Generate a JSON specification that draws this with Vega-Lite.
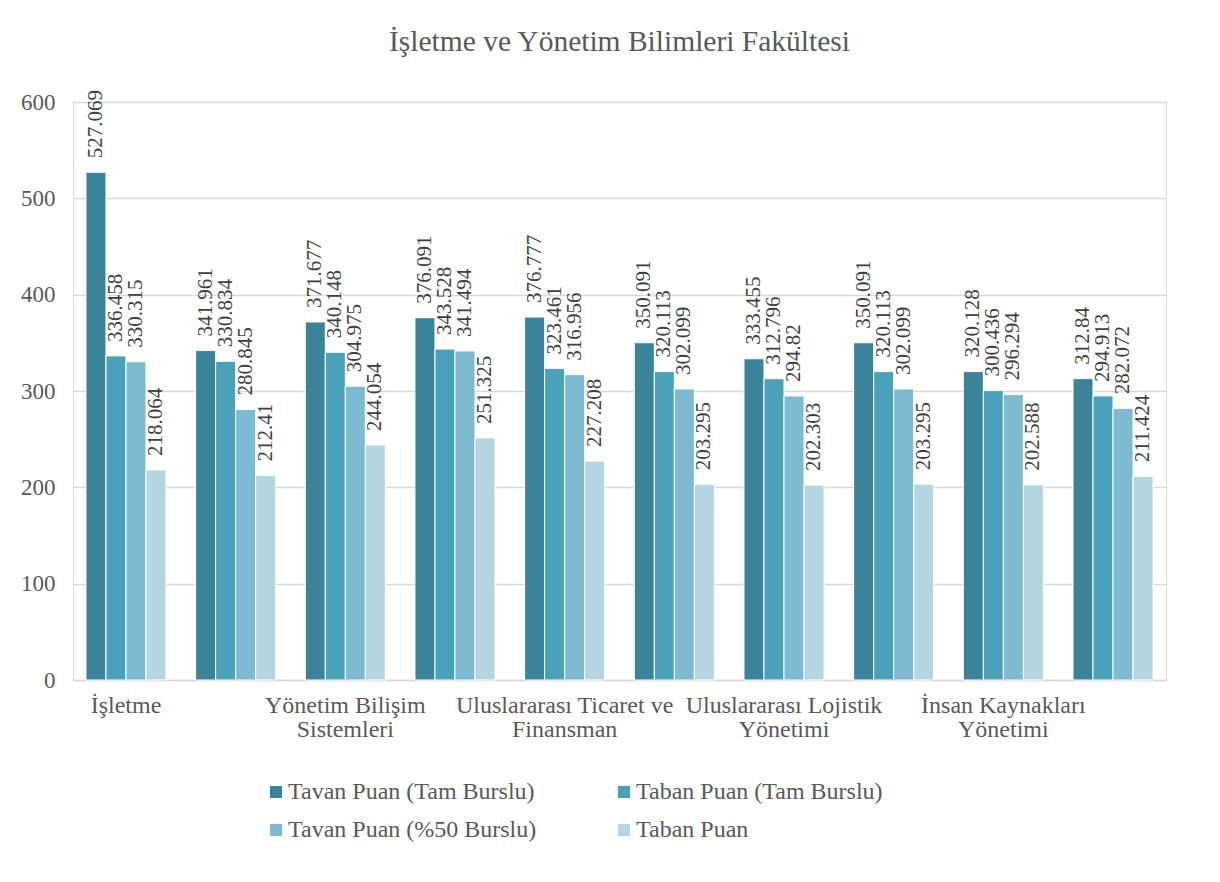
{
  "$schema": "https://vega.github.io/schema/vega-lite/v6.json",
  "autosize": {"type": "none"},
  "width": 1093,
  "height": 578,
  "padding": {"left": 73, "top": 102, "right": 54, "bottom": 202},
  "background": "white",
  "title": {
    "text": "İşletme ve Yönetim Bilimleri Fakültesi",
    "font": "Liberation Serif",
    "fontSize": 29.5,
    "fontWeight": "normal",
    "color": "#595959",
    "anchor": "middle",
    "offset": 33
  },
  "data": {
    "values": [
      {"bolum": "İşletme", "seri": "Tavan Puan (Tam Burslu)", "puan": 527.069},
      {"bolum": "İşletme", "seri": "Taban Puan (Tam Burslu)", "puan": 336.458},
      {"bolum": "İşletme", "seri": "Tavan Puan (%50 Burslu)", "puan": 330.315},
      {"bolum": "İşletme", "seri": "Taban Puan", "puan": 218.064},
      {"bolum": "İşletme (İngilizce)", "seri": "Tavan Puan (Tam Burslu)", "puan": 341.961},
      {"bolum": "İşletme (İngilizce)", "seri": "Taban Puan (Tam Burslu)", "puan": 330.834},
      {"bolum": "İşletme (İngilizce)", "seri": "Tavan Puan (%50 Burslu)", "puan": 280.845},
      {"bolum": "İşletme (İngilizce)", "seri": "Taban Puan", "puan": 212.41},
      {"bolum": "Yönetim Bilişim Sistemleri", "seri": "Tavan Puan (Tam Burslu)", "puan": 371.677},
      {"bolum": "Yönetim Bilişim Sistemleri", "seri": "Taban Puan (Tam Burslu)", "puan": 340.148},
      {"bolum": "Yönetim Bilişim Sistemleri", "seri": "Tavan Puan (%50 Burslu)", "puan": 304.975},
      {"bolum": "Yönetim Bilişim Sistemleri", "seri": "Taban Puan", "puan": 244.054},
      {"bolum": "Yönetim Bilişim Sistemleri (İngilizce)", "seri": "Tavan Puan (Tam Burslu)", "puan": 376.091},
      {"bolum": "Yönetim Bilişim Sistemleri (İngilizce)", "seri": "Taban Puan (Tam Burslu)", "puan": 343.528},
      {"bolum": "Yönetim Bilişim Sistemleri (İngilizce)", "seri": "Tavan Puan (%50 Burslu)", "puan": 341.494},
      {"bolum": "Yönetim Bilişim Sistemleri (İngilizce)", "seri": "Taban Puan", "puan": 251.325},
      {"bolum": "Uluslararası Ticaret ve Finansman", "seri": "Tavan Puan (Tam Burslu)", "puan": 376.777},
      {"bolum": "Uluslararası Ticaret ve Finansman", "seri": "Taban Puan (Tam Burslu)", "puan": 323.461},
      {"bolum": "Uluslararası Ticaret ve Finansman", "seri": "Tavan Puan (%50 Burslu)", "puan": 316.956},
      {"bolum": "Uluslararası Ticaret ve Finansman", "seri": "Taban Puan", "puan": 227.208},
      {"bolum": "Uluslararası Ticaret ve Finansman (İngilizce)", "seri": "Tavan Puan (Tam Burslu)", "puan": 350.091},
      {"bolum": "Uluslararası Ticaret ve Finansman (İngilizce)", "seri": "Taban Puan (Tam Burslu)", "puan": 320.113},
      {"bolum": "Uluslararası Ticaret ve Finansman (İngilizce)", "seri": "Tavan Puan (%50 Burslu)", "puan": 302.099},
      {"bolum": "Uluslararası Ticaret ve Finansman (İngilizce)", "seri": "Taban Puan", "puan": 203.295},
      {"bolum": "Uluslararası Lojistik Yönetimi", "seri": "Tavan Puan (Tam Burslu)", "puan": 333.455},
      {"bolum": "Uluslararası Lojistik Yönetimi", "seri": "Taban Puan (Tam Burslu)", "puan": 312.796},
      {"bolum": "Uluslararası Lojistik Yönetimi", "seri": "Tavan Puan (%50 Burslu)", "puan": 294.82},
      {"bolum": "Uluslararası Lojistik Yönetimi", "seri": "Taban Puan", "puan": 202.303},
      {"bolum": "Uluslararası Lojistik Yönetimi (İngilizce)", "seri": "Tavan Puan (Tam Burslu)", "puan": 350.091},
      {"bolum": "Uluslararası Lojistik Yönetimi (İngilizce)", "seri": "Taban Puan (Tam Burslu)", "puan": 320.113},
      {"bolum": "Uluslararası Lojistik Yönetimi (İngilizce)", "seri": "Tavan Puan (%50 Burslu)", "puan": 302.099},
      {"bolum": "Uluslararası Lojistik Yönetimi (İngilizce)", "seri": "Taban Puan", "puan": 203.295},
      {"bolum": "İnsan Kaynakları Yönetimi", "seri": "Tavan Puan (Tam Burslu)", "puan": 320.128},
      {"bolum": "İnsan Kaynakları Yönetimi", "seri": "Taban Puan (Tam Burslu)", "puan": 300.436},
      {"bolum": "İnsan Kaynakları Yönetimi", "seri": "Tavan Puan (%50 Burslu)", "puan": 296.294},
      {"bolum": "İnsan Kaynakları Yönetimi", "seri": "Taban Puan", "puan": 202.588},
      {"bolum": "İnsan Kaynakları Yönetimi (İngilizce)", "seri": "Tavan Puan (Tam Burslu)", "puan": 312.84},
      {"bolum": "İnsan Kaynakları Yönetimi (İngilizce)", "seri": "Taban Puan (Tam Burslu)", "puan": 294.913},
      {"bolum": "İnsan Kaynakları Yönetimi (İngilizce)", "seri": "Tavan Puan (%50 Burslu)", "puan": 282.072},
      {"bolum": "İnsan Kaynakları Yönetimi (İngilizce)", "seri": "Taban Puan", "puan": 211.424}
    ]
  },
  "encoding": {
    "x": {
      "field": "bolum",
      "type": "nominal",
      "sort": null,
      "scale": {"paddingInner": 0.27, "paddingOuter": 0.118},
      "axis": {
        "title": null,
        "labelAngle": 0,
        "labelFont": "Liberation Serif",
        "labelFontSize": 24,
        "labelColor": "#595959",
        "labelPadding": 13,
        "labelLimit": 500,
        "labelLineHeight": 24,
        "ticks": false,
        "domainColor": "#d9d9d9",
        "domainWidth": 1.5,
        "labelExpr": "datum.value == 'İşletme' ? 'İşletme' : datum.value == 'Yönetim Bilişim Sistemleri' ? ['Yönetim Bilişim', 'Sistemleri'] : datum.value == 'Uluslararası Ticaret ve Finansman' ? ['Uluslararası Ticaret ve', 'Finansman'] : datum.value == 'Uluslararası Lojistik Yönetimi' ? ['Uluslararası Lojistik', 'Yönetimi'] : datum.value == 'İnsan Kaynakları Yönetimi' ? ['İnsan Kaynakları', 'Yönetimi'] : ''"
      }
    },
    "xOffset": {
      "field": "seri",
      "type": "nominal",
      "sort": ["Tavan Puan (Tam Burslu)", "Taban Puan (Tam Burslu)", "Tavan Puan (%50 Burslu)", "Taban Puan"]
    },
    "y": {
      "field": "puan",
      "type": "quantitative",
      "scale": {"domain": [0, 600], "nice": false},
      "axis": {
        "title": null,
        "values": [0, 100, 200, 300, 400, 500, 600],
        "labelFont": "Liberation Serif",
        "labelFontSize": 23,
        "labelColor": "#595959",
        "labelPadding": 18,
        "ticks": false,
        "domain": false,
        "gridColor": "#d9d9d9",
        "gridWidth": 1.5
      }
    }
  },
  "layer": [
    {
      "mark": {"type": "bar", "stroke": "white", "strokeWidth": 1},
      "encoding": {
        "color": {
          "field": "seri",
          "type": "nominal",
          "sort": ["Tavan Puan (Tam Burslu)", "Taban Puan (Tam Burslu)", "Tavan Puan (%50 Burslu)", "Taban Puan"],
          "scale": {
            "domain": ["Tavan Puan (Tam Burslu)", "Taban Puan (Tam Burslu)", "Tavan Puan (%50 Burslu)", "Taban Puan"],
            "range": ["#3a8499", "#4aa1ba", "#7ebad0", "#b5d5e0"]
          },
          "legend": {
            "title": null,
            "orient": "none",
            "legendX": 191,
            "legendY": 678,
            "columns": 2,
            "direction": "horizontal",
            "columnPadding": 75,
            "rowPadding": 14,
            "symbolType": "square",
            "symbolSize": 144,
            "symbolStrokeWidth": 0,
            "labelFont": "Liberation Serif",
            "labelFontSize": 24,
            "labelColor": "#595959",
            "labelLimit": 500,
            "labelOffset": 0
          }
        }
      }
    },
    {
      "mark": {
        "type": "text",
        "angle": 270,
        "align": "left",
        "baseline": "middle",
        "dx": 14,
        "font": "Liberation Serif",
        "fontSize": 21,
        "color": "#404040"
      },
      "encoding": {
        "text": {"field": "puan", "type": "nominal"}
      }
    }
  ]
}
